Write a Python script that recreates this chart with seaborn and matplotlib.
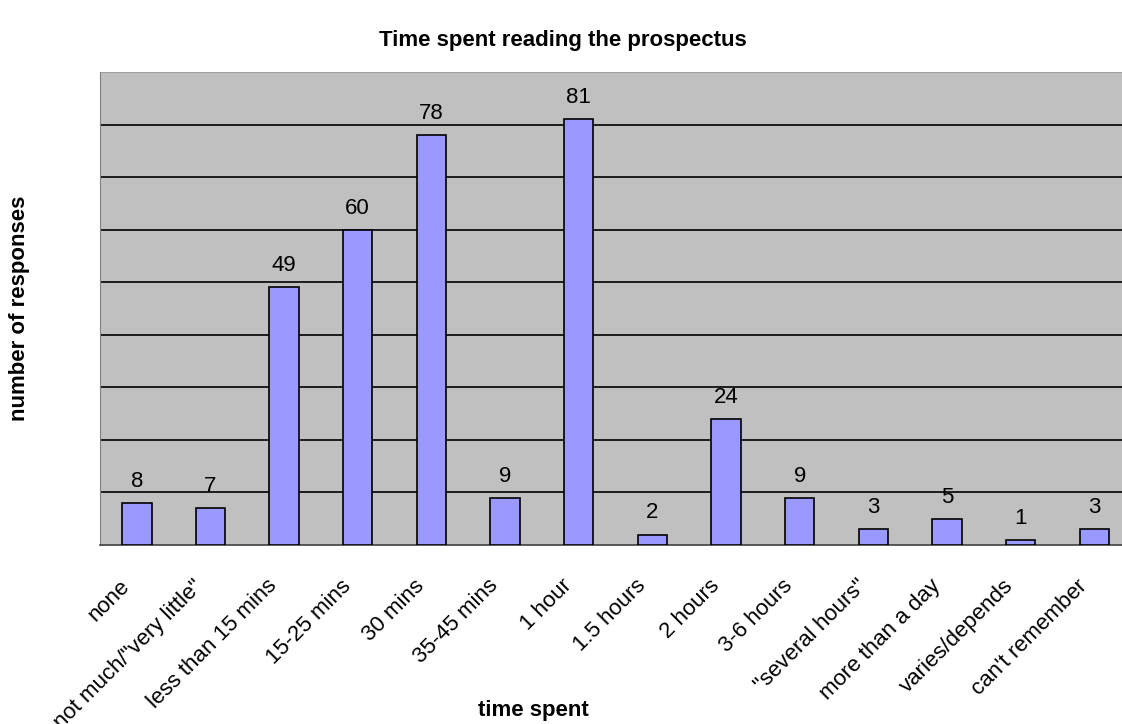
import matplotlib
matplotlib.use("Agg")
import matplotlib.pyplot as plt
import matplotlib.transforms as mtransforms
import seaborn as sns

# survey responses
categories = ['none', 'not much/"very little"', 'less than 15 mins', '15-25 mins',
              '30 mins', '35-45 mins', '1 hour', '1.5 hours', '2 hours',
              '3-6 hours', '"several hours"', 'more than a day',
              'varies/depends', "can't remember"]
responses = [8, 7, 49, 60, 78, 9, 81, 2, 24, 9, 3, 5, 1, 3]

sns.set_style("white")
plt.rcParams['font.family'] = ['Liberation Sans', 'DejaVu Sans']
plt.rcParams['text.color'] = 'black'
plt.rcParams['xtick.labelcolor'] = 'black'

fig = plt.figure(figsize=(11.22, 7.24), dpi=100)
ax = fig.add_axes([0.0891, 0.2472, 0.919, 0.6534])
ax.set_facecolor('#C0C0C0')

sns.barplot(x=categories, y=responses, color='#9999FF', saturation=1,
            width=0.4, edgecolor='black', linewidth=1.2, ax=ax, zorder=3)

ax.set_ylim(0, 90)
ax.set_xlim(-0.5, len(categories) - 0.5)
ax.set_yticks(range(10, 90, 10))
ax.set_yticklabels([])
ax.tick_params(axis='y', length=0)
ax.yaxis.grid(True, color='black', linewidth=1.2, zorder=0)
ax.set_axisbelow(True)

# category boundary ticks
ax.set_xticks([i + 0.5 for i in range(-1, len(categories))], minor=True)
ax.tick_params(axis='x', which='minor', length=6, width=1, color='#404040', direction='out')
ax.tick_params(axis='x', which='major', length=0, labelsize=16, pad=20)
ax.set_xticks(range(len(categories)))
ax.set_xticklabels(categories, rotation=45, ha='right', va='center',
                   rotation_mode='anchor', color='black')
# nudge labels down-left like the original
shift = mtransforms.ScaledTranslation(-0.1, -0.1, fig.dpi_scale_trans)
for lbl in ax.get_xticklabels():
    lbl.set_transform(lbl.get_transform() + shift)

for s in ['top', 'right']:
    ax.spines[s].set_visible(False)
ax.spines['left'].set_color('#808080')
ax.spines['bottom'].set_color('#404040')
ax.spines['bottom'].set_linewidth(1.2)
ax.axhline(90, color='#A0A0A0', linewidth=1.5, zorder=1)

ax.bar_label(ax.containers[0], padding=8, fontsize=16, color='black')

fig.text(0.502, 0.944, 'Time spent reading the prospectus', ha='center', va='center',
         fontsize=16, fontweight='bold')
fig.text(0.017, 0.574, 'number of responses', rotation=90, ha='center', va='center',
         fontsize=16, fontweight='bold')
fig.text(0.475, 0.019, 'time spent', ha='center', va='center',
         fontsize=16, fontweight='bold')

fig.savefig('out.png', dpi=100)
